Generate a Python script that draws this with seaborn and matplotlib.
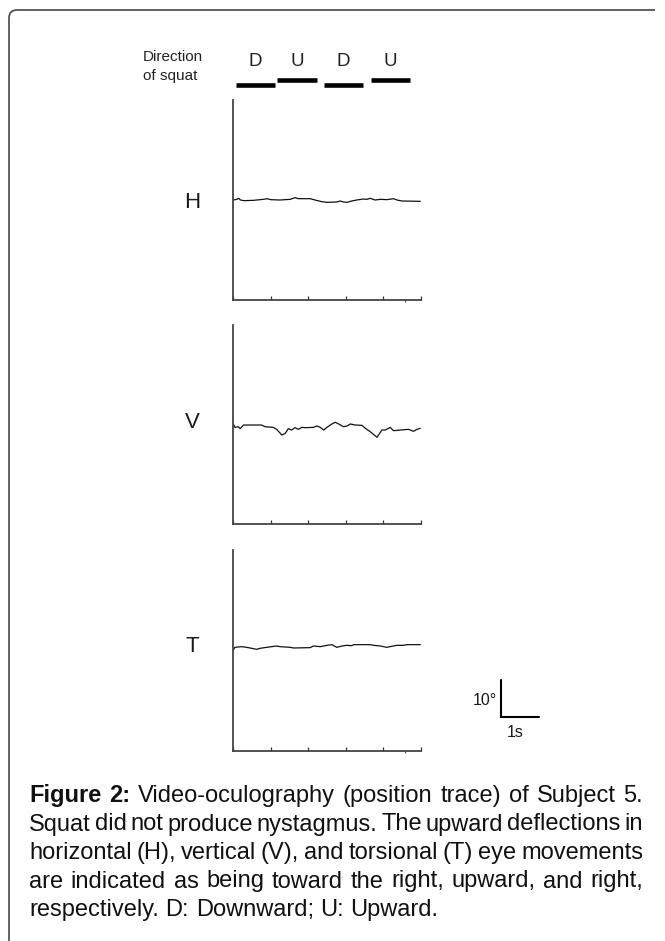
import numpy as np
import pandas as pd
import matplotlib.pyplot as plt
import seaborn as sns
from matplotlib.path import Path
from matplotlib.patches import PathPatch
from matplotlib.transforms import blended_transform_factory

# Eye position traces (time in s, position in degrees)
h_time = [0.01, 0.10, 0.15, 0.20, 0.29, 0.54, 0.81, 0.91, 1.00, 1.25, 1.52, 1.65, 1.74,
          2.05, 2.18, 2.36, 2.50, 2.76, 2.85, 2.94, 3.03, 3.16, 3.29, 3.47, 3.56, 3.65,
          3.78, 3.92, 4.09, 4.27, 4.36, 4.49, 4.98]
h_pos = [0.0, 0.18, 0.45, 0.0, -0.18, -0.09, 0.18, 0.36, 0.09, 0.0, 0.18, 0.63, 0.36,
         0.36, 0.0, -0.45, -0.63, -0.54, -0.27, -0.54, -0.63, -0.27, 0.0, 0.27, 0.18, 0.45,
         0.0, 0.18, 0.09, 0.36, 0.0, -0.27, -0.36]

v_time = [0.01, 0.05, 0.14, 0.19, 0.28, 0.76, 0.85, 1.07, 1.16, 1.30, 1.39, 1.47, 1.56,
          1.65, 1.74, 1.83, 1.92, 2.14, 2.23, 2.32, 2.41, 2.50, 2.63, 2.72, 2.81, 2.94,
          3.03, 3.12, 3.25, 3.43, 3.52, 3.65, 3.83, 3.96, 4.05, 4.18, 4.27, 4.45, 4.67,
          4.80, 4.89, 4.98]
v_pos = [0.14, -0.77, -0.59, -1.13, -0.14, -0.14, -0.59, -0.77, -1.31, -2.84, -2.39, -1.13,
         -1.49, -0.86, -1.31, -0.77, -0.86, -0.77, -0.41, -0.77, -1.49, -0.77, 0.14, 0.59,
         0.14, -0.59, -0.41, 0.14, -0.14, -0.23, -1.04, -1.94, -3.47, -1.49, -1.49, -0.77,
         -1.67, -1.49, -1.31, -1.85, -1.31, -1.04]

t_time = [0.01, 0.05, 0.23, 0.36, 0.50, 0.63, 0.72, 0.90, 1.16, 1.25, 1.52, 1.61, 2.05,
          2.14, 2.32, 2.50, 2.63, 2.76, 2.90, 3.03, 3.16, 3.21, 3.65, 3.74, 3.92, 4.09,
          4.27, 4.36, 4.54, 4.62, 4.98]
t_pos = [0.14, 0.86, 1.04, 0.86, 0.59, 0.32, 0.59, 0.86, 1.22, 1.04, 0.86, 0.68, 0.77,
         1.22, 1.04, 1.40, 1.58, 0.86, 1.22, 1.40, 1.31, 1.58, 1.58, 1.40, 1.22, 0.86,
         1.22, 1.40, 1.40, 1.58, 1.58]

# Squat phases (start / end in s)
squat_dir = ['D', 'U', 'D', 'U']
squat_start = [0.08, 1.17, 2.42, 3.67]
squat_end = [1.12, 2.23, 3.46, 4.71]

time_ticks = [0, 1, 2, 3, 4, 5]
scale_deg = 10
scale_sec = 1

caption_lines = [
    [("Figure", True), ("2:", True), ("Video-oculography", False), ("(position", False),
     ("trace)", False), ("of", False), ("Subject", False), ("5.", False)],
    [(w, False) for w in "Squat did not produce nystagmus. The upward deflections in".split()],
    [(w, False) for w in "horizontal (H), vertical (V), and torsional (T) eye movements".split()],
    [(w, False) for w in "are indicated as being toward the right, upward, and right,".split()],
    [(w, False) for w in "respectively. D: Downward; U: Upward.".split()],
]

sns.set_style("white")
plt.rcParams['font.family'] = ['Liberation Sans', 'DejaVu Sans']

W, H = 665, 941
def fx(x):
    return x / W
def fy(y):
    return 1 - y / H

fig = plt.figure(figsize=(W / 100, H / 100), dpi=100)

px_per_deg = 3.7
panels = [('H', h_time, h_pos, 100, 300, 208),
          ('V', v_time, v_pos, 325, 524, 428),
          ('T', t_time, t_pos, 550, 751, 652)]
axes = {}
for name, tt, pp, top, bot, lab_y in panels:
    ax = fig.add_axes([fx(233), fy(bot), (421 - 233) / W, (bot - top) / H])
    df = pd.DataFrame({'time': tt, 'pos': pp})
    sns.lineplot(data=df, x='time', y='pos', ax=ax, color='#111111', lw=0.9)
    half = (bot - top) / 2 / px_per_deg
    ax.set_ylim(-half, half)
    ax.set_xlim(0, 5)
    ax.set_xticks(time_ticks)
    ax.set_yticks([])
    ax.set_xlabel('')
    ax.set_ylabel('')
    ax.tick_params(axis='x', bottom=True, direction='in', length=2.8, width=0.9,
                   color='#333333', labelbottom=False)
    if name != 'V':
        ax.set_xticks([4.57], minor=True)
        ax.tick_params(axis='x', which='minor', bottom=True, direction='out', length=1.5,
                       width=0.9, color='#555555')
    sns.despine(ax=ax)
    for s in ['left', 'bottom']:
        ax.spines[s].set_color('#444444')
        ax.spines[s].set_linewidth(1.3)
    fig.text(fx(192), fy(lab_y), name, fontsize=16, ha='center', va='baseline', color='#1a1a1a')
    axes[name] = ax

# squat direction bars above H panel
axh = axes['H']
tr = blended_transform_factory(axh.transData, axh.transAxes)
for d, s, e in zip(squat_dir, squat_start, squat_end):
    yb = 1.075 if d == 'D' else 1.10
    axh.plot([s, e], [yb, yb], transform=tr, color='black', lw=3.3,
             solid_capstyle='butt', clip_on=False)
    axh.text((s + e) / 2, 1.19, d, transform=tr, ha='center', va='center',
             fontsize=13.5, color='#222222')

fig.text(fx(143), fy(61), "Direction", fontsize=11, ha='left', va='baseline', color='#222222')
fig.text(fx(143), fy(80), "of squat", fontsize=11, ha='left', va='baseline', color='#222222')

# scale bar next to T panel
axt = axes['T']
x0 = (501 - 233) / 37.6
y0 = -7.97
axt.plot([x0, x0, x0 + scale_sec], [y0, y0 - scale_deg, y0 - scale_deg], color='black',
         lw=1.5, clip_on=False, solid_joinstyle='miter')
fig.text(fx(497), fy(705), "10°", fontsize=11.5, ha='right', va='baseline', color='#1a1a1a')
fig.text(fx(515), fy(737), "1s", fontsize=11.5, ha='center', va='baseline', color='#1a1a1a')

# border (top + left, rounded corner)
verts = [(fx(9), fy(941)), (fx(9), fy(18)), (fx(9), fy(10)), (fx(17), fy(10)), (fx(655), fy(10))]
codes = [Path.MOVETO, Path.LINETO, Path.CURVE3, Path.CURVE3, Path.LINETO]
fig.patches.append(PathPatch(Path(verts, codes), transform=fig.transFigure, fill=False,
                             edgecolor='#555555', lw=1.3))

# caption, justified
renderer = fig.canvas.get_renderer()
probe = fig.text(0, 0, "respectively. D: Downward; U: Upward.", fontsize=10)
w10 = probe.get_window_extent(renderer).width
probe.remove()
fs = 10 * 410 / w10
p1 = fig.text(0, 0, "x x", fontsize=fs)
p2 = fig.text(0, 0, "xx", fontsize=fs)
space = p1.get_window_extent(renderer).width - p2.get_window_extent(renderer).width
p1.remove()
p2.remove()

baselines = [802, 830.5, 859, 887.5, 916]
left, right = 29, 643
for i, (tokens, yb) in enumerate(zip(caption_lines, baselines)):
    texts = [fig.text(0, fy(yb), w, fontsize=fs, fontweight='bold' if b else 'normal',
                      va='baseline', ha='left', color='#111111') for w, b in tokens]
    widths = [t.get_window_extent(renderer).width for t in texts]
    if i < len(caption_lines) - 1:
        gap = (right - left - sum(widths)) / (len(texts) - 1)
    else:
        gap = space
    x = left
    for t, w in zip(texts, widths):
        t.set_x(fx(x))
        x += w + gap

fig.savefig("out.png", dpi=100)
